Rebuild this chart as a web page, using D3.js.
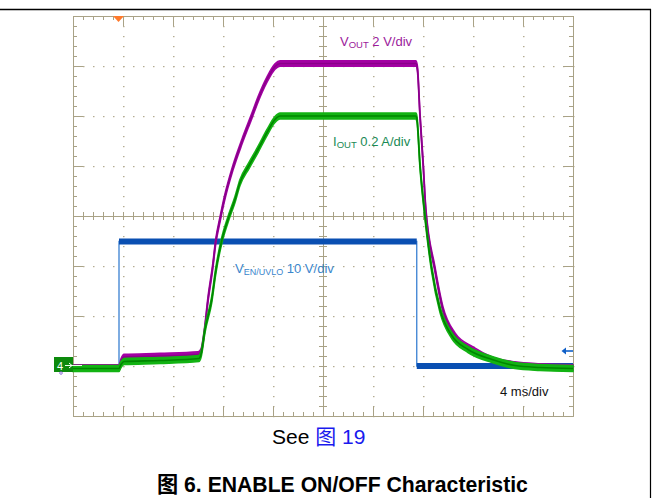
<!DOCTYPE html>
<html>
<head>
<meta charset="utf-8">
<script src="https://cdn.jsdelivr.net/npm/d3@7"></script>
<style>
body { margin: 0; background: #fff; }
svg { display: block; font-family: "Liberation Sans", Arial, "Noto Sans CJK SC", sans-serif; }
</style>
</head>
<body>
<svg id="chart" width="652" height="498"></svg>
<script>
// scope screen: 4 ms/div x 10 div, 8 vertical div
var timeDomain = [0, 40];
var divDomain = [-4, 4];
var channelZeroDiv = -3;

// EN/UVLO, 10 V/div
var enTime  = [0, 3.68, 3.68, 27.5, 27.5, 40];
var enVolts = [0, 0, 24.9, 24.9, 0, 0];

// VOUT, 2 V/div
var voutTime  = [0, 3.68, 3.84, 4.08, 6.96, 10.0, 10.24, 10.48, 10.8, 11.18, 11.42, 11.76, 12.1, 12.8, 13.52,
                 14.32, 14.8, 15.52, 16.16, 16.56, 27.44, 27.56, 27.76, 28.02, 28.22, 28.96, 29.6, 30.56,
                 32.0, 33.52, 35.36, 37.36, 40];
var voutVolts = [-0.06, -0.06, 0.18, 0.36, 0.40, 0.46, 0.58, 1.26, 2.66, 3.98, 4.98, 5.86, 6.66, 7.94, 8.98,
                 10.02, 10.66, 11.46, 11.98, 12.1, 12.1, 11.86, 10.02, 8.02, 6.26, 3.86, 2.26, 1.22,
                 0.66, 0.26, 0.06, -0.02, -0.06];

// IOUT, 0.2 A/div
var ioutTime = [0, 3.68, 3.84, 4.08, 6.96, 10.08, 10.24, 10.56, 11.1, 11.44, 11.9, 12.4, 12.96, 13.36, 14.08,
                14.8, 15.52, 16.16, 16.56, 27.44, 27.52, 27.76, 28.1, 28.7, 29.36, 30.3, 31.6, 33.52,
                35.36, 37.36, 40];
var ioutAmps = [-0.01, -0.01, 0.006, 0.018, 0.022, 0.03, 0.046, 0.146, 0.266, 0.386, 0.502, 0.586, 0.666, 0.734, 0.802,
                0.866, 0.934, 0.986, 1.0, 1.0, 0.986, 0.802, 0.626, 0.386, 0.226, 0.122, 0.066, 0.026,
                0.002, -0.006, -0.01];

var voutLabel = ["V", "OUT", " 2 V/div"];
var ioutLabel = ["I", "OUT", " 0.2 A/div"];
var enLabel   = ["V", "EN/UVLO", " 10 V/div"];
var timeLabel = "4 ms/div";
var seeText = ["See ", "图 19"];
var captionText = "图 6. ENABLE ON/OFF Characteristic";

var margin = {top: 16, left: 73},
    width = 500,
    height = 400;

var gridColor = "#a9a286";

var svg = d3.select("#chart");

// frame of the figure
svg.append("line").attr("x1", 0).attr("x2", 651).attr("y1", 9.5).attr("y2", 9.5)
    .attr("stroke", "#000").attr("stroke-width", 1.4);
svg.append("line").attr("x1", 650.5).attr("x2", 650.5).attr("y1", 9).attr("y2", 498)
    .attr("stroke", "#000").attr("stroke-width", 1.2);

var x = d3.scaleLinear().domain(timeDomain).range([margin.left, margin.left + width]);
var yDiv = d3.scaleLinear().domain(divDomain).range([margin.top + height, margin.top]);

function channelY(perDiv) {
    return function(v) { return yDiv(channelZeroDiv + v / perDiv); };
}
var yEn = channelY(10), yVout = channelY(2), yIout = channelY(0.2);

var minorT = d3.range(0, 51).map(function(i) { return i * 0.8; });
var majorT = d3.range(1, 10).map(function(i) { return i * 4; });
var minorD = d3.range(0, 41).map(function(i) { return -4 + i * 0.2; });
var majorD = d3.range(-3, 4);

// graticule dots
var dots = svg.append("g").attr("fill", "#b3ac92");
majorT.filter(function(t) { return t !== 20; }).forEach(function(t) {
    minorD.forEach(function(d) {
        dots.append("rect").attr("x", x(t)).attr("y", Math.round(yDiv(d))).attr("width", 1.5).attr("height", 1.2);
    });
});
majorD.filter(function(d) { return d !== 0; }).forEach(function(d) {
    minorT.forEach(function(t) {
        dots.append("rect").attr("x", Math.round(x(t))).attr("y", yDiv(d)).attr("width", 1.5).attr("height", 1.2);
    });
});

function styleAxis(g) {
    g.selectAll("path, line").attr("stroke", gridColor);
    g.selectAll("text").remove();
}

function edgeAxis(axisFn, scale, tx, ty, values, size) {
    svg.append("g")
        .attr("transform", "translate(" + tx + "," + ty + ")")
        .call(axisFn(scale).tickValues(values).tickSize(size).tickSizeOuter(0).tickFormat(""))
        .call(styleAxis);
}

// edges
edgeAxis(d3.axisBottom, x, 0, margin.top, minorT, 4);
edgeAxis(d3.axisBottom, x, 0, margin.top, majorT, 10);
edgeAxis(d3.axisTop, x, 0, margin.top + height, minorT, 4);
edgeAxis(d3.axisTop, x, 0, margin.top + height, majorT, 10);
edgeAxis(d3.axisRight, yDiv, margin.left, 0, minorD, 4);
edgeAxis(d3.axisRight, yDiv, margin.left, 0, majorD, 10);
edgeAxis(d3.axisLeft, yDiv, margin.left + width, 0, minorD, 4);
edgeAxis(d3.axisLeft, yDiv, margin.left + width, 0, majorD, 10);

// centre cross
edgeAxis(d3.axisLeft, yDiv, x(20), 0, minorD, 4);
edgeAxis(d3.axisRight, yDiv, x(20), 0, minorD, 4);
edgeAxis(d3.axisTop, x, 0, yDiv(0), minorT, 4);
edgeAxis(d3.axisBottom, x, 0, yDiv(0), minorT, 4);

// EN/UVLO trace
var enData = d3.zip(enTime, enVolts);
svg.append("path")
    .datum(enData)
    .attr("d", d3.line().x(function(d) { return x(d[0]); }).y(function(d) { return yEn(d[1]); }))
    .attr("fill", "none").attr("stroke", "#3a80d2").attr("stroke-width", 1.3);
for (var i = 1; i < enData.length; i++) {
    if (enData[i][1] === enData[i - 1][1] && (i > 2)) {
        svg.append("line")
            .attr("x1", x(enData[i - 1][0])).attr("x2", x(enData[i][0]))
            .attr("y1", yEn(enData[i][1])).attr("y2", yEn(enData[i][1]))
            .attr("stroke", "#0a4fb2").attr("stroke-width", 6);
    }
}

function drawTrace(data, yFn, fill, core, half) {
    var area = d3.area()
        .x(function(d) { return x(d[0]); })
        .y0(function(d) { return yFn(d[1]) - half; })
        .y1(function(d) { return yFn(d[1]) + half; })
        .curve(d3.curveMonotoneX);
    var line = d3.line()
        .x(function(d) { return x(d[0]); })
        .y(function(d) { return yFn(d[1]); })
        .curve(d3.curveMonotoneX);
    svg.append("path").datum(data).attr("d", area).attr("fill", fill)
        .attr("stroke", fill).attr("stroke-width", 1.6);
    svg.append("path").datum(data).attr("d", line).attr("fill", "none")
        .attr("stroke", core).attr("stroke-width", 1.6);
}

drawTrace(d3.zip(voutTime, voutVolts), yVout, "#a300a3", "#8a008a", 2.6);
drawTrace(d3.zip(ioutTime, ioutAmps), yIout, "#13b313", "#008600", 3);

// markers
svg.append("path")
    .attr("d", "M113,16 L124,16 L118.5,22 Z")
    .attr("fill", "#ff7a2c");

svg.append("rect").attr("x", 54).attr("y", 357).attr("width", 19).attr("height", 15).attr("fill", "#0c8a0c");
svg.append("text").attr("x", 57).attr("y", 369.5).attr("fill", "#fff").attr("font-size", 11).text("4");
svg.append("line").attr("x1", 65).attr("x2", 82).attr("y1", 365.5).attr("y2", 365.5)
    .attr("stroke", "#e8ffe8").attr("stroke-width", 1);
svg.append("path").attr("d", "M69,363 L72,365.5 L69,368").attr("fill", "none").attr("stroke", "#fff").attr("stroke-width", 1);
svg.append("circle").attr("cx", 61).attr("cy", 373).attr("r", 1.3).attr("fill", "none")
    .attr("stroke", "#7a4fd0").attr("stroke-width", 0.8);

svg.append("line").attr("x1", 563).attr("x2", 573).attr("y1", 351).attr("y2", 351)
    .attr("stroke", "#1060c8").attr("stroke-width", 1.6);
svg.append("path").attr("d", "M561.5,351 L566,347.5 L566,354.5 Z").attr("fill", "#1060c8");

// channel labels
function subLabel(parts, lx, ly, color, subSize) {
    var t = svg.append("text").attr("x", lx).attr("y", ly).attr("fill", color).attr("font-size", 13);
    t.append("tspan").text(parts[0]);
    t.append("tspan").attr("font-size", subSize).attr("dy", 2).text(parts[1]);
    t.append("tspan").attr("dy", -2).text(parts[2]);
}
subLabel(voutLabel, 340, 46, "#9b1a9b", 9.5);
subLabel(ioutLabel, 333, 146, "#1a8a55", 9.5);
subLabel(enLabel, 235, 272.5, "#3a86cc", 9);

svg.append("text").attr("x", 500).attr("y", 396).attr("font-size", 13).attr("fill", "#111").text(timeLabel);

// captions
var see = svg.append("text").attr("x", 272).attr("y", 444).attr("font-size", 21).attr("fill", "#000");
see.append("tspan").text(seeText[0]);
see.append("tspan").attr("fill", "#1a1aee").text(seeText[1]);

svg.append("text").attr("x", 157).attr("y", 492).attr("font-size", 21.2).attr("font-weight", "bold")
    .attr("fill", "#000").text(captionText);
</script>
</body>
</html>
